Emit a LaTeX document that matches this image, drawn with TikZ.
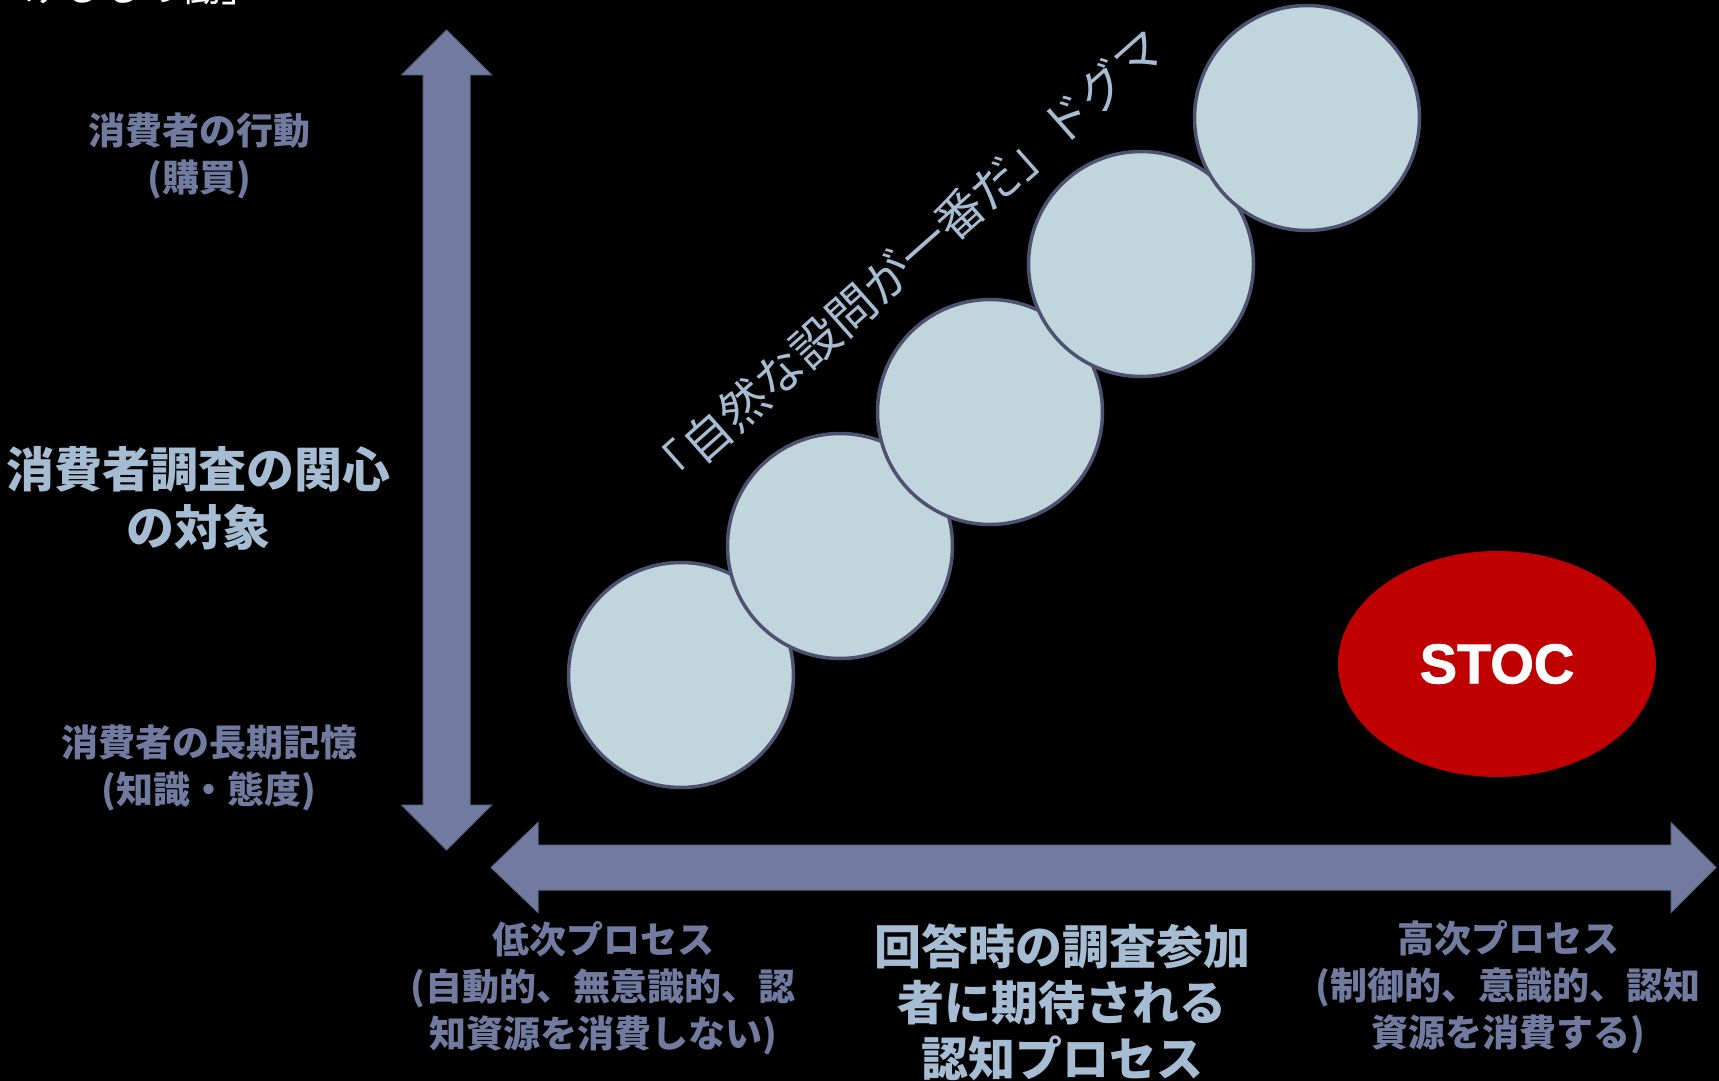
\documentclass[tikz,border=0pt]{standalone}
\usepackage{fontspec}
\setmainfont{Liberation Sans}[BoldFeatures={FakeBold=1.6}]
\newfontfamily\jp{Noto Sans CJK JP}
\usetikzlibrary{shapes.geometric}
\definecolor{arrowc}{RGB}{113,123,160}
\definecolor{arrowe}{RGB}{92,100,138}
\definecolor{lightt}{RGB}{165,188,210}
\definecolor{cfill}{RGB}{193,213,221}
\definecolor{cedge}{RGB}{76,82,112}
\definecolor{stocred}{RGB}{192,0,0}
\tikzset{
  arrowshape/.style={fill=arrowc, draw=arrowe, line width=1pt, line join=miter},
  smalllbl/.style={font=\jp\bfseries\fontsize{37}{47}\selectfont, text=arrowc, align=center, inner sep=0pt},
  biglbl/.style={font=\jp\bfseries\fontsize{47}{56}\selectfont, text=lightt, align=center, inner sep=0pt},
  bubble/.style={circle, minimum size=225pt, inner sep=0pt, fill=cfill, draw=cedge, line width=3.5pt},
}
\begin{document}
\begin{tikzpicture}[x=1pt, y=-1pt]
\fill[black] (0,0) rectangle (1719,1081);
\useasboundingbox (0,0) rectangle (1719,1081);

% cut-off title at the top
\node[font=\jp\fontsize{40}{40}\selectfont, text=white, anchor=south east, inner sep=0pt] (title) at (262,5) {けるもの働」};

% axes
\path[arrowshape] (446.5,30) -- (491.7,75) -- (470,75) -- (470,805) -- (491.7,805) -- (446.5,850)
  -- (401.7,805) -- (423,805) -- (423,75) -- (401.7,75) -- cycle;
\path[arrowshape] (491,867.5) -- (538,822.5) -- (538,845) -- (1671,845) -- (1671,822.5) -- (1716,867.5)
  -- (1671,912.5) -- (1671,890) -- (538,890) -- (538,912.5) -- cycle;

% vertical axis labels
\node[smalllbl] (top) at (199,156) {消費者の行動\\(購買)};
\node[biglbl, font=\jp\bfseries\fontsize{48}{58}\selectfont] (vaxis) at (198,498) {消費者調査の関心\\の対象};
\node[smalllbl] (bottom) at (209,768) {消費者の長期記憶\\(知識・態度)};

% horizontal axis labels
\node[smalllbl] (low) at (603,988) {低次プロセス\\(自動的、無意識的、認\\知資源を消費しない)};
\node[biglbl] (haxis) at (1062,1002) {回答時の調査参加\\者に期待される\\認知プロセス};
\node[smalllbl] (high) at (1508,987) {高次プロセス\\(制御的、意識的、認知\\資源を消費する)};

% bubbles
\node[bubble] (c1) at (681,675) {};
\node[bubble] (c2) at (840,546) {};
\node[bubble] (c3) at (990,412) {};
\node[bubble] (c4) at (1141,264) {};
\node[bubble] (c5) at (1307,118) {};

% dogma label
\node[rotate=41.5, font=\jp\fontsize{48}{48}\selectfont, text=lightt, inner sep=0pt] (dogma) at (905,262) {「自然な設問が一番だ」ドグマ};

% STOC
\node[ellipse, minimum width=318pt, minimum height=226pt, fill=stocred, inner sep=0pt,
      font=\bfseries\fontsize{56}{56}\selectfont, text=white] (stoc) at (1497,664) {STOC};
\end{tikzpicture}
\end{document}
